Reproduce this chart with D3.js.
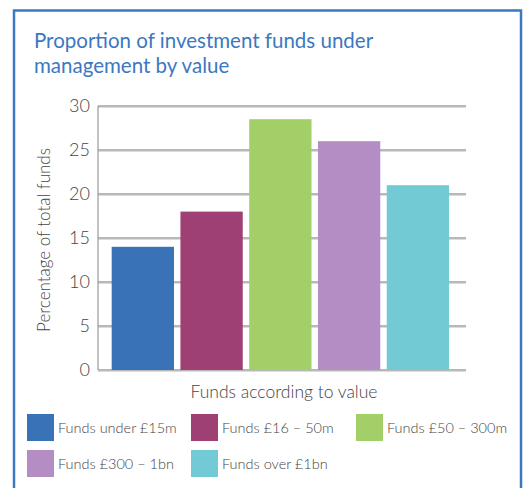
<!DOCTYPE html>
<html>
<head>
<meta charset="utf-8">
<script src="https://cdn.jsdelivr.net/npm/d3@7"></script>
<style>
  body { margin: 0; background: #fff; }
  text { font-family: Lato, "Open Sans", sans-serif; font-weight: 300; }
</style>
</head>
<body>
<div id="chart"></div>
<script>
const categories = ["Funds under £15m", "Funds £16 – 50m", "Funds £50 – 300m", "Funds £300 – 1bn", "Funds over £1bn"];
const values = [14, 18, 28.5, 26, 21];
const colors = ["#3a72b8", "#9e4073", "#a2cf67", "#b38dc3", "#72cbd4"];
const yTicks = [0, 5, 10, 15, 20, 25, 30];

const width = 528, height = 488;
const plotLeft = 98, plotRight = 466;

const svg = d3.select("#chart").append("svg")
    .attr("width", width).attr("height", height);

// frame
svg.append("rect")
    .attr("x", 14).attr("y", 10.5)
    .attr("width", 507).attr("height", 500)
    .attr("fill", "none").attr("stroke", "#3c78c0").attr("stroke-width", 2.5);

// title
const title = svg.append("text")
    .attr("fill", "#3c78c0").style("font-size", "20.5px").style("font-weight", 400);
title.append("tspan").attr("x", 34).attr("y", 48).text("Proportion of investment funds under");
title.append("tspan").attr("x", 34).attr("y", 73).text("management by value");

const y = d3.scaleLinear().domain([0, 30]).range([370, 106]);
const x = d3.scaleBand().domain(categories)
    .range([104.8, 455.9]).paddingInner(0.094).paddingOuter(0.1);

// gridlines (with soft shadow)
svg.append("g").selectAll("line")
    .data(yTicks).enter().append("line")
    .attr("x1", plotLeft).attr("x2", plotRight)
    .attr("y1", d => y(d) + 1.5).attr("y2", d => y(d) + 1.5)
    .attr("stroke", "#dcdcdc").attr("stroke-width", 1);
svg.append("g").selectAll("line")
    .data(yTicks).enter().append("line")
    .attr("x1", plotLeft).attr("x2", plotRight)
    .attr("y1", d => y(d)).attr("y2", d => y(d))
    .attr("stroke", "#a0a0a0").attr("stroke-width", 1.3);

// y axis line
svg.append("line")
    .attr("x1", plotLeft).attr("x2", plotLeft)
    .attr("y1", y(30)).attr("y2", y(0))
    .attr("stroke", "#a0a0a0").attr("stroke-width", 1.3);

// y axis labels
const yAxis = d3.axisLeft(y).tickValues(yTicks).tickSize(0).tickPadding(8);
const ya = svg.append("g").attr("transform", `translate(${plotLeft},0)`).call(yAxis);
ya.select(".domain").remove();
ya.selectAll("text").attr("fill", "#444").style("font-size", "18px")
    .style("font-family", "Lato, sans-serif");

// bars
svg.append("g").selectAll("rect")
    .data(values).enter().append("rect")
    .attr("x", (d, i) => x(categories[i]))
    .attr("width", x.bandwidth())
    .attr("y", d => y(d))
    .attr("height", d => y(0) - y(d))
    .attr("fill", (d, i) => colors[i]);

// axis titles
svg.append("text")
    .attr("transform", "translate(50,240) rotate(-90)")
    .attr("text-anchor", "middle").attr("fill", "#444")
    .style("font-size", "17px")
    .text("Percentage of total funds");

svg.append("text")
    .attr("x", 284).attr("y", 398)
    .attr("text-anchor", "middle").attr("fill", "#444")
    .style("font-size", "17.5px")
    .text("Funds according to value");

// legend
const legendPos = [[27, 414], [191, 414], [356, 414], [27, 450], [191, 450]];
const leg = svg.append("g").selectAll("g")
    .data(categories).enter().append("g")
    .attr("transform", (d, i) => `translate(${legendPos[i][0]},${legendPos[i][1]})`);
leg.append("rect").attr("width", 27).attr("height", 27)
    .attr("fill", (d, i) => colors[i]);
leg.append("text").attr("x", 31).attr("y", 19)
    .attr("fill", "#444").style("font-size", "14.5px")
    .text(d => d);
</script>
</body>
</html>
